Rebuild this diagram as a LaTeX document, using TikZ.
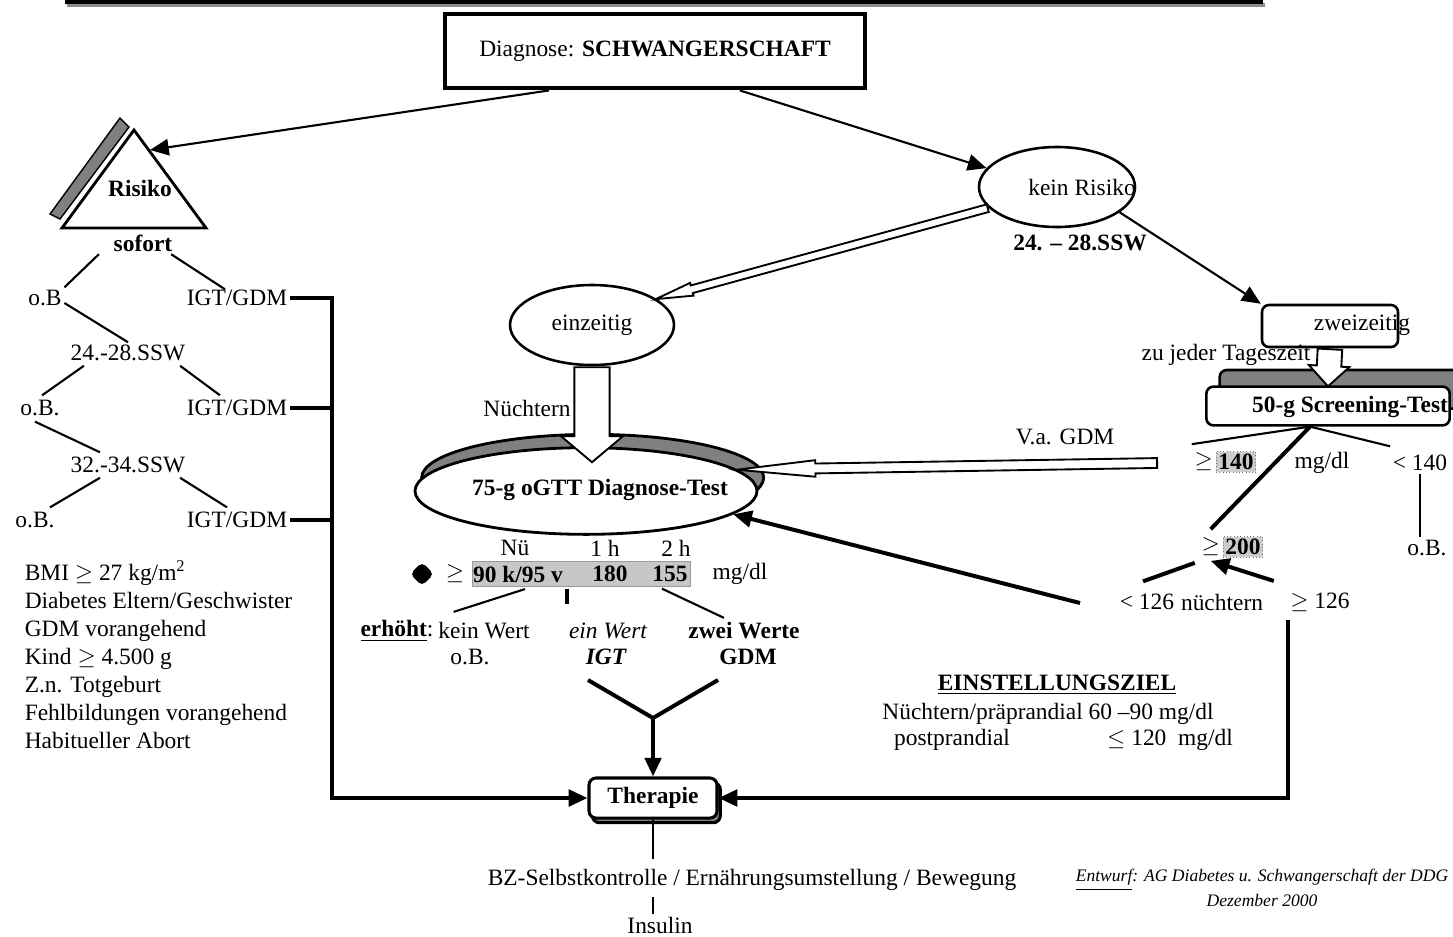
\documentclass[tikz,border=0pt]{standalone}
\usepackage{fontspec}
\setmainfont{Liberation Serif}
\usetikzlibrary{calc,positioning,arrows.meta,shapes.geometric,shapes.arrows,shadows}

%% hollow block arrow from #2 to #3, half shaft width #4, head extend #5
\newcommand\hollowarrow[5][]{%
  \path let \p1=($(#3)-(#2)$), \n1={atan2(\y1,\x1)}, \n2={veclen(\x1,\y1)} in
    node[hollow, rotate=\n1, minimum height=\n2, inner ysep=#4,
         single arrow head extend=#5, anchor=tail, #1] at (#2) {};}

\begin{document}
\begin{tikzpicture}[x=0.015cm, y=-0.015cm,
    every node/.append style={inner sep=1pt},
    conn/.style={line width=.9pt},
    heavy/.style={line width=1.7pt},
    tip/.style={-{Triangle[length=8pt,width=7pt]}},
    hollow/.style={single arrow, draw, fill=white, line width=.8pt, inner xsep=0pt},
    titlebox/.style={draw, line width=1.8pt, minimum width=6.3cm, minimum height=1.12cm},
    rbox/.style={draw, fill=white, rounded corners=3pt, line width=1.1pt},
    valbox/.style={fill=black!20, draw=black!55, densely dotted, inner sep=1pt, font=\bfseries},
    shade/.style={fill=black!50, draw=black, line width=.6pt}]

  \useasboundingbox (0,0) rectangle (1453,936);

  %% frame line at the top
  \draw[black!45, line width=2pt] (67,5) -- (1265,5);
  \draw[line width=2.2pt] (65,1) -- (1263,1);

  %% title
  \node[titlebox] (diag) at (655,51) {Diagnose: \textbf{SCHWANGERSCHAFT}};

  %% Risiko triangle
  \fill[shade] (50,214) -- (120,118) -- (129,127) -- (60,219) -- cycle;
  \draw[fill=white, line width=1.2pt] (62,228) -- (134,130) -- (206,228) -- cycle;
  \node[font=\bfseries] (risk) at (140,188) {Risiko};
  \coordinate (risktip) at (150,150);
  \draw[conn,tip] ($(diag.south west)!.25!(diag.south east)$) -- (risktip);

  %% left tree
  \node[font=\bfseries] (sof) at (143,243) {sofort};
  \node (ob1) at (45,298) {o.B};
  \node (ig1) at (237,298) {IGT/GDM};
  \node (s24) at (128,353) {24.-28.SSW};
  \node (ob2) at (40,408) {o.B.};
  \node (ig2) at (237,408) {IGT/GDM};
  \node (s32) at (128,465) {32.-34.SSW};
  \node (ob3) at (35,520) {o.B.};
  \node (ig3) at (237,520) {IGT/GDM};

  \draw[conn] ($(sof.south west)+(-12,0)$) -- (ob1.north east);
  \draw[conn] ($(sof.south east)+(-4,0)$) -- ($(ig1.north)+(-12,2)$);
  \draw[conn] ($(ob1.east)+(0,5)$) -- (s24.north);
  \draw[conn] ($(s24.south west)+(16,2)$) -- ($(ob2.north)+(2,-2)$);
  \draw[conn] ($(s24.south east)+(-8,2)$) -- ($(ig2.north)+(-17,-2)$);
  \draw[conn] ($(ob2.south)+(-5,3)$) -- ($(s32.north)+(-28,-2)$);
  \draw[conn] ($(s32.south)+(-28,2)$) -- ($(ob3.north)+(15,-2)$);
  \draw[conn] ($(s32.south east)+(-8,2)$) -- ($(ig3.north)+(-10,-2)$);

  %% risk factors
  \node[align=left, anchor=north west, font=\fontsize{10}{12}\selectfont] (rf) at (22,558)
    {BMI $\geq$ 27 kg/m\textsuperscript{2}\\ Diabetes Eltern/Geschwister\\ GDM vorangehend\\
     Kind $\geq$ 4.500 g\\ Z.n. Totgeburt\\ Fehlbildungen vorangehend\\ Habitueller Abort};

  %% kein Risiko
  \node[ellipse, draw, line width=1.1pt, minimum width=2.34cm, minimum height=1.2cm] (kein) at (1057,187) {};
  \node (keint) at (1082,187) {kein Risiko};
  \node[font=\bfseries] (k2428) at (1080,243) {24. -- 28.SSW};
  \draw[conn,tip] ($(diag.south west)!.70!(diag.south east)$) -- (kein.165);

  %% einzeitig
  \node[ellipse, draw, line width=1.1pt, minimum width=2.46cm, minimum height=1.2cm] (einz) at (592,325) {einzeitig};
  \hollowarrow[single arrow tip angle=20]{kein.197}{einz.22}{0.045cm}{0.04cm}

  %% 75-g oGTT
  \node[ellipse, draw, line width=1.2pt, fill=white, minimum width=5.13cm, minimum height=1.3cm,
        drop shadow={shadow xshift=.1cm, shadow yshift=.2cm, fill=black!50, draw=black, opacity=1}] (ogtt) at (586,491) {};
  \node[font=\bfseries] (ogttt) at (600,490) {75-g oGTT Diagnose-Test};
  \coordinate (einztip) at ($(ogtt.north)+(6,15)$);
  \hollowarrow[single arrow tip angle=100]{einz.south}{einztip}{0.25cm}{0.2cm}
  \node (nuech) at (527,408) {Nüchtern};

  %% V.a. GDM
  \node (vagdm) at (1065,437) {V.a. GDM};
  \coordinate (vatail) at (1158,463);
  \hollowarrow[single arrow tip angle=12]{vatail}{ogtt.8}{0.06cm}{0.05cm}

  %% zweizeitig and screening
  \node[rbox, minimum width=2.04cm, minimum height=0.63cm] (zwz) at (1330,326) {};
  \node (zwzt) at (1362,325) {zweizeitig};
  \draw[conn,tip] (kein.-22) -- (zwz.north west);
  \node (tags) at (1226,355) {zu jeder Tageszeit};
  \node[rbox, minimum width=3.65cm, minimum height=0.58cm,
        drop shadow={shadow xshift=.2cm, shadow yshift=.25cm, fill=black!50, draw=black, opacity=1}] (scr) at (1328,406) {};
  \node[font=\bfseries] (scrt) at (1350,407) {50-g Screening-Test};
  \hollowarrow[single arrow tip angle=90]{zwz.south}{scr.north}{0.17cm}{0.12cm}

  \coordinate (sb) at ($(scr.south)+(-18,0)$);
  \node[valbox] (v140) at (1236,462) {140};
  \node[left=0pt of v140] (ge140) {$\geq$};
  \node (mgdl2) at (1322,463) {mg/dl};
  \node (lt140) at (1420,463) {< 140};
  \node (ob4) at (1427,548) {o.B.};
  \node[valbox] (v200) at (1243,547) {200};
  \node[left=0pt of v200] (ge200) {$\geq$};
  \draw[conn] (sb) -- ($(ge140.north west)+(0,-6)$);
  \draw[conn] (sb) -- ($(lt140.north west)+(0,-6)$);
  \draw[heavy] (sb) -- ($(ge200.north)+(0,-6)$);
  \draw[conn] (lt140.south) -- (lt140.south |- ob4.north);

  \node (lt126) at (1147,602) {< 126};
  \node (nue) at (1222,602) {nüchtern};
  \node (ge126) at (1320,602) {$\geq$ 126};
  \draw[heavy] ($(lt126.north)+(-4,-10)$) -- ($(ge200.south west)+(-4,4)$);
  \draw[heavy,tip] ($(nue.north east)+(8,-10)$) -- ($(ge200.south)+(0,2)$);
  \coordinate (ltail) at (1080,603);
  \draw[heavy,tip] (ltail) -- (ogtt.-9);

  %% table of values
  \node[fill=black!22, draw=black!40, minimum width=3.27cm, minimum height=0.37cm] (bar) at (581,574) {};
  \node[font=\bfseries] (v90) at (518,574) {90 k/95 v};
  \node[font=\bfseries] (v180) at (610,574) {180};
  \node[font=\bfseries] (v155) at (670,574) {155};
  \node (hnue) at (515,548) {Nü};
  \node (h1) at (605,548) {1 h};
  \node (h2) at (676,548) {2 h};
  \node (mgdl1) at (740,574) {mg/dl};
  \node (ge) at (455,574) {$\geq$};
  \node[diamond, fill, rounded corners=2pt, minimum size=0.36cm, inner sep=0pt] (dot) at (422,574) {};

  \node (erh) at (397,631) {\underline{\textbf{erhöht}}:};
  \node (kw) at (484,631) {kein Wert};
  \node (ob5) at (470,657) {o.B.};
  \node[font=\itshape] (ew) at (608,631) {ein Wert};
  \node[font=\bfseries\itshape] (igt) at (606,657) {IGT};
  \node[font=\bfseries] (zw) at (744,631) {zwei Werte};
  \node[font=\bfseries] (gdm) at (748,657) {GDM};

  \draw[conn] ($(v90.south)+(7,4)$) -- ($(kw.north west)+(18,-8)$);
  \draw[heavy] ($(bar.south)+(-14,2)$) -- ++(0,15);
  \draw[conn] ($(v155.south)+(-8,4)$) -- ($(zw.north)+(-20,-2)$);

  %% Therapie
  \node[rbox, line width=1.3pt, minimum width=1.92cm, minimum height=0.6cm, font=\bfseries,
        drop shadow={shadow xshift=.05cm, shadow yshift=-.07cm, fill=black!50, draw=black, opacity=1}] (ther) at (653,798) {Therapie};
  \coordinate (vl) at (588,680);
  \coordinate (vr) at (718,680);
  \coordinate (vm) at (653,718);
  \draw[heavy] (vl) -- (vm) -- (vr);
  \draw[heavy,tip] (vm) -- (ther.north);

  \coordinate (bus) at (332,798);
  \draw[heavy,tip] (ig1.east) -| (bus) -- (ther.west);
  \draw[heavy] (ig2.east) -- (ig2.east -| bus);
  \draw[heavy] (ig3.east) -- (ig3.east -| bus);
  \coordinate (rbus) at (1288,620);
  \draw[heavy,tip] (rbus) |- (ther.east);

  \node (bz) at (752,880) {BZ-Selbstkontrolle / Ernährungsumstellung / Bewegung};
  \node (ins) at (660,925) {Insulin};
  \draw[conn] (ther.south) -- ($(ther.south |- bz.north)+(0,-8)$);
  \draw[conn] ($(ther.south |- bz.south)+(0,4)$) -- (ther.south |- ins.north);

  %% target values
  \node[font=\bfseries] (ziel) at (1057,685) {\underline{EINSTELLUNGSZIEL}};
  \node (zl1) at (1048,714) {Nüchtern/präprandial 60 --90 mg/dl};
  \node (zl2a) at (952,740) {postprandial};
  \node (zl2b) at (1170,740) {$\leq$ 120\ \ mg/dl};

  %% source
  \node[font=\fontsize{7.5}{9}\selectfont\itshape] (src) at (1262,880) {\underline{Entwurf}: AG Diabetes u. Schwangerschaft der DDG};
  \node[font=\fontsize{7.5}{9}\selectfont\itshape] (dat) at (1262,900) {Dezember 2000};

\end{tikzpicture}
\end{document}
